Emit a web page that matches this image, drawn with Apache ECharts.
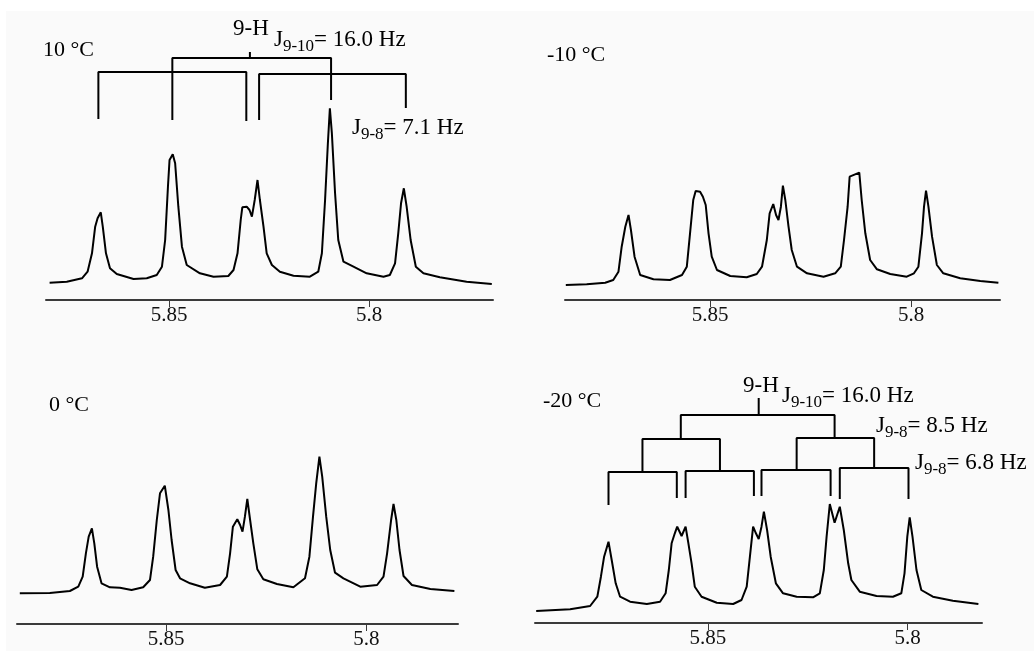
<!DOCTYPE html>
<html><head><meta charset="utf-8">
<script src="https://cdn.jsdelivr.net/npm/echarts@6/dist/echarts.min.js"></script>
<style>html,body{margin:0;padding:0;background:#fff}#c{width:1034px;height:651px}</style>
</head><body><div id="c"></div>
<script>
// ---- data (ppm, intensity in arbitrary units) ----
const tickValues = [5.85, 5.8];
const panelTitles = ['10 °C', '-10 °C', '0 °C', '-20 °C'];
const xRanges = [[5.7690, 5.8808], [5.7779, 5.8861], [5.7771, 5.8872], [5.7814, 5.8933]];

const spec10 = [[5.8799,17.3],[5.8756,18.3],[5.8718,21.7],[5.8704,28.3],[5.8693,46.7],[5.8685,73.3],[5.8679,81.7],[5.8671,87.7],[5.8666,73.3],[5.8658,46.7],[5.8648,31.7],[5.8631,26],[5.8589,21],[5.8556,21.7],[5.8531,25],[5.8518,33.3],[5.8510,60],[5.8503,113.3],[5.8499,140],[5.8491,145.7],[5.8485,136.7],[5.8477,93.3],[5.8468,53.3],[5.8456,35],[5.8423,26.7],[5.8389,23.3],[5.8352,24],[5.8339,30],[5.8329,46.7],[5.8321,80],[5.8317,92.7],[5.8306,93.3],[5.8299,90],[5.8293,83.3],[5.8286,100],[5.8279,120],[5.8273,100],[5.8264,73.3],[5.8256,46.7],[5.8243,35],[5.8223,28.3],[5.8189,24.3],[5.8148,23.3],[5.8127,28.3],[5.8118,46.7],[5.8110,100],[5.8103,156.7],[5.8098,191.7],[5.8093,166.7],[5.8085,106.7],[5.8077,60],[5.8064,38.3],[5.8039,33.3],[5.8006,26.7],[5.7964,23.3],[5.7948,25],[5.7935,36.7],[5.7927,66.7],[5.7920,96.7],[5.7913,111.7],[5.7906,93.3],[5.7896,60],[5.7883,33.3],[5.7864,26.7],[5.7823,22.7],[5.7756,18.3],[5.7693,16]];

const specM10 = [[5.8859,15],[5.8807,15.7],[5.8761,17.3],[5.8741,20],[5.8728,28.3],[5.8720,53.3],[5.8711,73.3],[5.8703,85],[5.8697,70],[5.8688,43.3],[5.8674,25],[5.8641,20.7],[5.8600,20],[5.8570,25],[5.8558,33.3],[5.8550,66.7],[5.8542,100],[5.8536,109],[5.8525,108.3],[5.8518,103.3],[5.8511,95],[5.8504,66.7],[5.8496,43.3],[5.8483,30],[5.8450,24],[5.8409,22.7],[5.8384,26],[5.8371,33.3],[5.8359,60],[5.8352,86.7],[5.8343,96],[5.8336,85],[5.8330,80],[5.8324,93.3],[5.8319,114.3],[5.8313,100],[5.8305,73.3],[5.8297,50],[5.8284,33.3],[5.8259,26.7],[5.8218,23.3],[5.8189,26.7],[5.8175,33.3],[5.8167,60],[5.8158,93.3],[5.8153,123.3],[5.8129,127.3],[5.8123,100],[5.8114,66.7],[5.8102,40],[5.8085,30.7],[5.8052,26],[5.8011,23.3],[5.7993,26.7],[5.7982,33.3],[5.7973,66.7],[5.7968,93.3],[5.7963,109.3],[5.7957,93.3],[5.7948,63.3],[5.7936,35],[5.7920,26.7],[5.7878,21.7],[5.7828,19],[5.7783,17.3]];

const spec0 = [[5.8865,30.7],[5.8790,31],[5.8740,33],[5.8719,37.3],[5.8708,47.3],[5.8700,70.7],[5.8693,87.3],[5.8685,95.7],[5.8679,80.7],[5.8672,57.3],[5.8661,40.7],[5.8640,36.7],[5.8615,36.3],[5.8586,34],[5.8557,36.7],[5.8540,44],[5.8532,67.3],[5.8523,104],[5.8515,130.7],[5.8503,138.3],[5.8494,114],[5.8486,84],[5.8476,54],[5.8465,45.7],[5.8440,40.7],[5.8403,36.3],[5.8365,39],[5.8348,47.3],[5.8340,70.7],[5.8333,97.3],[5.8322,104.7],[5.8315,99],[5.8309,92.3],[5.8303,107.3],[5.8297,125],[5.8290,104],[5.8282,80.7],[5.8272,54.7],[5.8257,44.7],[5.8223,40],[5.8182,36.7],[5.8153,45.7],[5.8142,67.3],[5.8133,107.3],[5.8125,140.7],[5.8117,167.3],[5.8110,147.3],[5.8100,107.3],[5.8090,74],[5.8078,51.3],[5.8057,45.7],[5.8015,37.3],[5.7973,39],[5.7957,47.3],[5.7948,70.7],[5.7938,104],[5.7932,120],[5.7925,104],[5.7917,74],[5.7907,48],[5.7886,39],[5.7840,35],[5.7780,33]];

const specM20 = [[5.8930,12],[5.8845,13.7],[5.8795,17],[5.8777,26.3],[5.8768,46.3],[5.8760,66.3],[5.8749,81.3],[5.8741,63],[5.8731,39.7],[5.8720,26.3],[5.8695,21.3],[5.8653,19],[5.8620,21.3],[5.8606,29.7],[5.8598,53],[5.8591,79.7],[5.8583,89.7],[5.8577,96.3],[5.8566,87],[5.8556,96.3],[5.8549,79.7],[5.8541,59.7],[5.8533,36.3],[5.8516,26.3],[5.8478,20.3],[5.8437,19],[5.8416,23],[5.8403,36.3],[5.8395,66.3],[5.8387,96.3],[5.8380,89.7],[5.8373,84],[5.8366,96.3],[5.8360,111.3],[5.8352,93],[5.8343,66.3],[5.8330,39.7],[5.8312,29.7],[5.8278,26.3],[5.8237,25.7],[5.8220,29.7],[5.8210,53],[5.8203,86.3],[5.8195,119],[5.8183,100.3],[5.8170,116.3],[5.8160,93],[5.8149,59.7],[5.8141,43],[5.8120,31.3],[5.8078,27],[5.8037,26.3],[5.8016,29.7],[5.8008,49.7],[5.8001,86.3],[5.7995,105.7],[5.7988,86.3],[5.7978,53],[5.7966,33],[5.7937,26.3],[5.7887,22.3],[5.7823,19]];

// coupling trees (ppm, height)
const tree10 = [
  [[5.8298,248],[5.8298,242]],
  [[5.8492,180],[5.8492,242],[5.8095,242],[5.8095,200]],
  [[5.8677,181],[5.8677,228],[5.8307,228],[5.8307,179]],
  [[5.8275,180],[5.8275,226],[5.7908,226],[5.7908,192]]
];
const treeM20 = [
  [[5.8373,225],[5.8373,208]],
  [[5.8568,184.5],[5.8568,208],[5.8183,208],[5.8183,184.5]],
  [[5.8664,151],[5.8664,184],[5.8470,184],[5.8470,152]],
  [[5.8278,153],[5.8278,185],[5.8084,185],[5.8084,155]],
  [[5.8749,118],[5.8749,151],[5.8578,151],[5.8578,125]],
  [[5.8556,125],[5.8556,152],[5.8385,152],[5.8385,127]],
  [[5.8366,127],[5.8366,153],[5.8193,153],[5.8193,127]],
  [[5.8170,124],[5.8170,155],[5.7998,155],[5.7998,124]]
];

const spectra = [spec10, specM10, spec0, specM20];
const trees = [tree10, [], [], treeM20];

// ---- layout ----
const grids = [
  {left: 46, top: 20, width: 447, height: 280},
  {left: 565, top: 20, width: 435, height: 280},
  {left: 17, top: 344, width: 441, height: 280},
  {left: 535, top: 343, width: 447, height: 280}
];
const FONT = 'Liberation Serif, Times New Roman, serif';
const AXC = '#3a3a3a';

const xAxes = [], yAxes = [], series = [];
grids.forEach((g, i) => {
  xAxes.push({
    type: 'value', gridIndex: i, inverse: true,
    min: xRanges[i][0], max: xRanges[i][1],
    axisLine: {show: true, onZero: false, lineStyle: {color: AXC, width: 2}},
    axisTick: {show: true, customValues: tickValues, length: 7, lineStyle: {color: AXC, width: 1}},
    axisLabel: {show: true, customValues: tickValues, margin: 5, color: '#111',
      fontFamily: FONT, fontSize: 21, formatter: v => String(v)},
    splitLine: {show: false}
  });
  yAxes.push({type: 'value', gridIndex: i, min: 0, max: 280, show: false});
  series.push({
    type: 'line', xAxisIndex: i, yAxisIndex: i, data: spectra[i],
    showSymbol: false, symbol: 'none', smooth: false, animation: false,
    lineStyle: {color: '#000', width: 2}, z: 3
  });
  trees[i].forEach(b => {
    series.push({
      type: 'line', xAxisIndex: i, yAxisIndex: i, data: b,
      showSymbol: false, symbol: 'none', animation: false,
      lineStyle: {color: '#000', width: 2}, z: 3
    });
  });
});

const mainStyle = {fontSize: 23, fontFamily: FONT, lineHeight: 31, fill: '#000'};
const subStyle = {fontSize: 17, fontFamily: FONT, lineHeight: 16, verticalAlign: 'bottom', fill: '#000'};
function txt(x, y, text, size) {
  return {type: 'text', x: x, y: y, z: 10, silent: true,
    style: {text: text, fontSize: size || 22, fontFamily: FONT, lineHeight: 31,
      fill: '#000', verticalAlign: 'top', align: 'left'}};
}
function jtxt(x, y, sub, rest) {
  return {type: 'text', x: x, y: y, z: 10, silent: true,
    style: {text: '{m|J}{s|' + sub + '}{m|' + rest + '}', rich: {m: mainStyle, s: subStyle},
      fontSize: 23, fontFamily: FONT, lineHeight: 31, verticalAlign: 'top', align: 'left', fill: '#000'}};
}

const graphics = [
  {type: 'rect', shape: {x: 6, y: 11, width: 1028, height: 640}, style: {fill: '#fafafa'}, z: -10, silent: true},
  txt(43, 35, panelTitles[0]),
  txt(547, 40, panelTitles[1]),
  txt(49, 390, panelTitles[2]),
  txt(543, 386, panelTitles[3]),
  txt(233, 13, '9-H', 23),
  jtxt(274, 24, '9-10', '= 16.0 Hz'),
  jtxt(352, 112, '9-8', '= 7.1 Hz'),
  txt(743, 370, '9-H', 23),
  jtxt(782, 380, '9-10', '= 16.0 Hz'),
  jtxt(876, 410, '9-8', '= 8.5 Hz'),
  jtxt(915, 447, '9-8', '= 6.8 Hz')
];

const chart = echarts.init(document.getElementById('c'), null, {renderer: 'canvas'});
chart.setOption({
  backgroundColor: '#ffffff',
  animation: false,
  grid: grids,
  xAxis: xAxes,
  yAxis: yAxes,
  series: series,
  graphic: graphics
});
</script></body></html>
